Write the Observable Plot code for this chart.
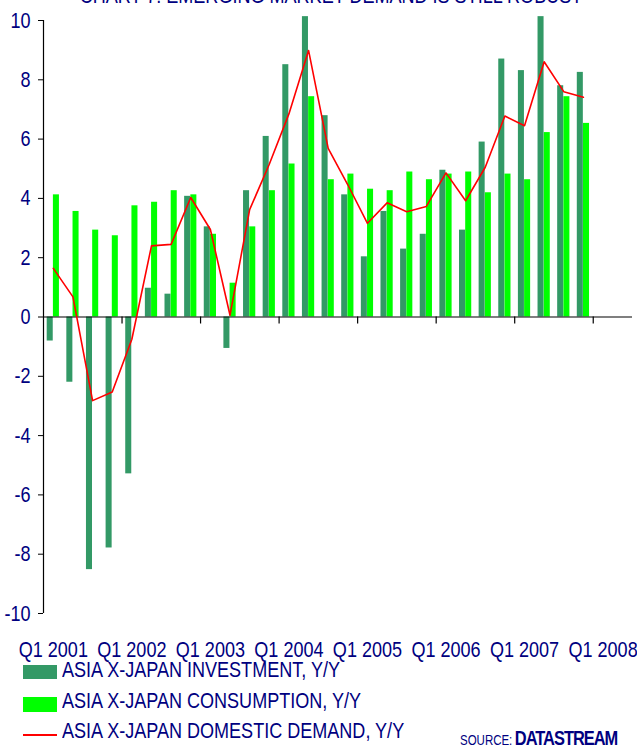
<!DOCTYPE html>
<html>
<head>
<meta charset="utf-8">
<script src="https://cdn.jsdelivr.net/npm/d3@7"></script>
<script src="https://cdn.jsdelivr.net/npm/@observablehq/plot@0.6"></script>
<style>
  html, body { margin: 0; padding: 0; background: #fff; }
  #wrap { position: relative; width: 637px; height: 749px; overflow: hidden;
          font-family: "Liberation Sans Narrow", "Arial Narrow", "Liberation Sans", sans-serif; color: #000080; }
  #chart { position: absolute; left: 0; top: 0; }
  #title { position: absolute; left: 331px; top: -14.6px; transform: translateX(-50%) scaleX(0.82);
           transform-origin: center center; white-space: nowrap; font-size: 22px; line-height: 22px; }
  .lg-text { position: absolute; left: 62px; font-size: 22px; line-height: 18px; white-space: nowrap;
             transform: scaleX(0.82); transform-origin: left center; }
  .sw { position: absolute; left: 23px; width: 34px; }
  #source { position: absolute; left: 460px; top: 727px; white-space: nowrap; line-height: 22px;
            transform: scaleX(0.82); transform-origin: left center; }
  #source .s1 { font-size: 14px; }
  #source .s2 { font-size: 20px; font-weight: bold; letter-spacing: -1.2px; margin-left: 3px; }
</style>
</head>
<body>
<div id="wrap">
  <div id="chart"></div>
  <div id="title"></div>
  <div id="legend"></div>
  <div id="source"><span class="s1">SOURCE:</span><span class="s2">DATASTREAM</span></div>
</div>
<script>
// ---- data ----
const quarters = [
  "Q1 2001","Q2 2001","Q3 2001","Q4 2001",
  "Q1 2002","Q2 2002","Q3 2002","Q4 2002",
  "Q1 2003","Q2 2003","Q3 2003","Q4 2003",
  "Q1 2004","Q2 2004","Q3 2004","Q4 2004",
  "Q1 2005","Q2 2005","Q3 2005","Q4 2005",
  "Q1 2006","Q2 2006","Q3 2006","Q4 2006",
  "Q1 2007","Q2 2007","Q3 2007","Q4 2007"
];
const investment = [
  -0.81, -2.20, -8.52, -7.79,
  -5.29,  0.97,  0.77,  4.07,
   3.04, -1.06,  4.26,  6.09,
   8.51, 10.13,  6.79,  4.12,
   2.03,  3.56,  2.29,  2.79,
   4.95,  2.93,  5.90,  8.70,
   8.31, 10.13,  7.80,  8.25
];
const consumption = [
  4.12, 3.56, 2.93, 2.74,
  3.75, 3.87, 4.26, 4.12,
  2.79, 1.14, 3.04, 4.26,
  5.16, 7.43, 4.63, 4.82,
  4.31, 4.26, 4.89, 4.63,
  4.82, 4.89, 4.19, 4.82,
  4.63, 6.22, 7.43, 6.53
];
const domestic = [
   1.64,  0.68, -2.82, -2.53,
  -0.75,  2.40,  2.45,  4.03,
   2.95,  0.06,  3.62,  5.15,
   6.85,  8.99,  5.69,  4.46,
   3.16,  3.85,  3.55,  3.73,
   4.86,  3.92,  5.05,  6.78,
   6.45,  8.61,  7.60,  7.41
];
const xTickLabels = ["Q1 2001","Q1 2002","Q1 2003","Q1 2004","Q1 2005","Q1 2006","Q1 2007","Q1 2008"];
const yTicks = [-10, -8, -6, -4, -2, 0, 2, 4, 6, 8, 10];
const seriesNames = [
  "ASIA X-JAPAN INVESTMENT, Y/Y",
  "ASIA X-JAPAN CONSUMPTION, Y/Y",
  "ASIA X-JAPAN DOMESTIC DEMAND, Y/Y"
];
const titleText = "CHART 7: EMERGING MARKET DEMAND IS STILL ROBUST";

// ---- derived tables ----
const rows = quarters.map((q, i) => ({q, i, inv: investment[i], con: consumption[i], dom: domestic[i]}));
const nSlots = quarters.length + 2;               // axis runs two quarters past the data (to Q2 2008)
const labelPos = xTickLabels.map((_, k) => 4 * k + 0.5); // Q1 of each year (slot centre)
const yearBounds = xTickLabels.slice(1).map((_, k) => 4 * (k + 1)); // boundaries between years

const colInv = "#339966", colCon = "#00ff00", colDom = "#ff0000", navy = "#000080";

const chart = Plot.plot({
  width: 637,
  height: 665,
  marginTop: 20,
  marginBottom: 52,
  marginLeft: 43,
  marginRight: 5,
  x: {domain: [0, nSlots], label: null},
  y: {domain: [-10, 10], label: null},
  style: {
    fontFamily: '"Liberation Sans Narrow", "Arial Narrow", "Liberation Sans", sans-serif',
    fontSize: "22px",
    color: navy,
    background: "white",
    overflow: "visible"
  },
  marks: [
    Plot.rectY(rows, {x1: "i", x2: d => d.i + 1, y1: 0, y2: "inv", fill: colInv, insetLeft: 3.7, insetRight: 9.9}),
    Plot.rectY(rows, {x1: "i", x2: d => d.i + 1, y1: 0, y2: "con", fill: colCon, insetLeft: 9.9, insetRight: 3.7}),
    Plot.ruleY([0], {stroke: "black", strokeWidth: 1.2}),
    Plot.ruleX(yearBounds, {y1: 0, y2: 0, insetBottom: -7, stroke: "black", strokeWidth: 1.2}),
    Plot.ruleX([0], {stroke: "black", strokeWidth: 1.2}),
    Plot.axisY(yTicks, {tickSize: 5, tickPadding: 8, stroke: "black", fill: navy, label: null,
                        tickFormat: d => String(d)}),
    Plot.axisX(labelPos, {tickSize: 0, tickPadding: 28, fill: navy, label: null,
                          tickFormat: d => xTickLabels[Math.round((d - 0.5) / 4)]}),
    Plot.line(rows, {x: d => d.i + 0.5, y: "dom", stroke: colDom, strokeWidth: 1.6})
  ]
});
document.getElementById("chart").appendChild(chart);

// condense axis label glyphs horizontally (narrow typeface look)
chart.querySelectorAll("text").forEach(t => {
  const w = t.getComputedTextLength();
  if (w > 0) {
    t.setAttribute("textLength", (w * 0.82).toFixed(2));
    t.setAttribute("lengthAdjust", "spacingAndGlyphs");
  }
});

document.getElementById("title").textContent = titleText;

// ---- legend ----
const legend = document.getElementById("legend");
const lgTextTops = [661.4, 692.4, 722.4];
const swatches = [
  {top: 665, height: 14, color: colInv},
  {top: 697, height: 15, color: colCon},
  {top: 734, height: 2, color: colDom}
];
seriesNames.forEach((name, k) => {
  const sw = document.createElement("div");
  sw.className = "sw";
  sw.style.top = swatches[k].top + "px";
  sw.style.height = swatches[k].height + "px";
  sw.style.background = swatches[k].color;
  legend.appendChild(sw);
  const t = document.createElement("div");
  t.className = "lg-text";
  t.style.top = lgTextTops[k] + "px";
  t.textContent = name;
  legend.appendChild(t);
});
</script>
</body>
</html>
